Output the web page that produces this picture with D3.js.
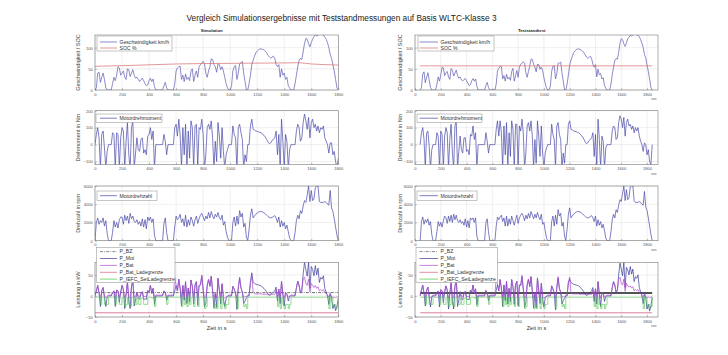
<!DOCTYPE html>
<html><head><meta charset="utf-8">
<script src="https://cdn.jsdelivr.net/npm/d3@7"></script>
<style>body{margin:0;background:#fff}svg{display:block;font-family:"Liberation Sans",Arial,sans-serif}</style>
</head><body><svg id="c" width="728" height="355"></svg>
<script>
// ---------------- DATA ----------------
const xTicks = [0,200,400,600,800,1000,1200,1400,1600,1800];
const simStart = 0, testStart = 40, sampleStep = 10;

// Simulation (t = 0..1800 s, every 10 s)
const simSpeed = [0,5,40,42,18,30,40,25,5,0, 0,0,0,15,30,22,35,55,52,35, 40,45,30,25,50,48,32,40,48,35, 28,30,25,20,25,28,22,15,10,12,
 22,28,20,26,8,0,0,0,0,0, 0,10,18,5,0,0,0,0,0,15, 45,52,55,56,25,35,20,38,25,30, 22,45,50,20,35,45,30,55,60,64,
 68,62,40,30,45,55,74,72,60,55, 42,62,60,48,55,45,30,15,5,0, 0,10,45,55,58,25,40,62,65,67, 40,20,0,0,15,35,60,70,80,88,
 92,95,97,97,96,95,92,88,82,78, 75,78,80,75,60,55,60,30,50,35, 40,25,30,10,5,0,0,0,15,35, 55,70,75,72,90,110,122,120,110,102,
 112,120,126,130,128,130,131,131,131,130, 125,120,112,100,85,75,60,45,25,5, 0];
const simSocTime = [0,200,400,600,800,1000,1200,1400,1500,1550,1600,1700,1800];
const simSoc     = [56,57.5,59.5,61.5,62.5,63,63.5,64,64.5,63.5,61.5,60,59];
const simTorque = [0,60,100,40,-140,60,80,-20,-140,-40, 0,0,0,70,60,-140,70,60,-140,40, 100,80,-140,20,130,-60,-140,100,140,-140,
 -50,40,-30,-40,30,40,-50,-30,-60,50, 60,100,30,80,-140,0,0,0,0,0, 0,60,20,-60,0,0,0,0,0,100, 120,50,150,60,-140,100,-60,120,-140,80,
 -80,140,100,-140,110,120,-140,100,90,150, 60,-140,-60,100,120,90,140,40,-140,20, -100,130,50,-80,100,-40,-140,-60,-30,0,
 0,0,110,60,40,-140,100,120,70,30, -140,-60,-100,0,0,110,150,90,85,80, 78,75,72,70,60,55,45,30,15,5, 10,25,30,40,80,-60,60,-140,150,20,
 -140,60,20,-140,-30,0,0,0,0,80, 120,100,20,40,130,180,140,90,160,40, 130,150,100,120,80,110,70,100,90,110, 40,20,0,-50,10,10,-60,-40,-100,-140, -80];
const simRpm = [0,2000,2500,1800,2200,2000,2500,1600,2200,800, 0,0,0,900,2200,1500,2000,1400,2300,2600, 2600,1800,2800,2200,2700,1900,3000,2400,2700,2100,
 2000,2300,1800,2100,1600,2400,1500,2300,1300,2600, 2200,2600,2000,2400,600,0,0,0,0,0, 0,1900,2500,900,0,0,0,0,0,1500,
 2700,2300,2500,2900,2000,2400,1600,2800,1500,2300, 1700,2600,2200,1600,2300,2700,1900,2400,2800,3000, 2600,2200,2700,2400,3100,2500,3200,2700,2400,2900,
 2600,3100,2500,2300,2800,1700,2100,1000,400,0, 0,0,2000,2600,1600,2700,1800,3300,2600,3000, 1500,1900,400,0,1200,2800,3500,2500,2700,2900,
 3050,3150,3200,3200,3150,3050,2950,2800,2650,2550, 2500,2550,2650,2750,2500,2000,2600,1500,2200,1600, 2000,1300,1700,1000,300,0,0,0,900,2200,
 2800,2400,3300,3000,3800,4400,4200,5000,6000,4300, 5500,4400,4600,5800,6000,6000,4300,4200,4200,4200, 4300,4200,4000,3900,5500,3600,3200,2400,1500,600, 0];
const simPMot = [0,12,25,7,-25,12,20,-3,-25,-3, 0,0,0,8,12,-25,14,12,-15,9, 25,15,-30,4,33,-12,-30,22,38,-24, -10,9,-5,-8,5,10,-8,-7,-8,13,
 8,25,6,18,-20,0,0,0,0,0, 0,12,8,-10,0,0,0,0,0,12, 25,12,40,18,-24,25,-10,34,-18,19, -14,38,23,-19,26,34,-22,25,26,47,
 16,-26,-17,25,39,23,47,11,-28,6, -27,42,13,-19,29,-7,-25,-6,-1,0, 0,0,23,16,7,-32,19,42,19,9, -18,-12,-4,0,0,32,55,32,30,28,
 27,26,25,24,20,18,14,9,4,1, 3,7,9,12,21,-12,16,-18,35,3, -24,8,4,-12,-1,0,0,0,0,19, 35,25,7,13,52,80,62,47,80,18,
 70,63,48,72,50,66,32,44,40,48, 18,9,0,-20,6,-5,-30,-20,-35,-25, -5];
const simPBat = [2,12,25,7,-3,12,20,0,-5,0, 2,2,2,8,12,-5,14,12,-3,9, 25,15,-5,4,33,-2,-5,22,38,-4, -2,9,0,-2,5,10,-2,-1,-2,13,
 8,25,6,18,-4,2,2,2,2,2, 2,12,8,-2,2,2,2,2,2,45, 25,12,40,18,-4,25,-2,34,-3,19, -3,38,23,-3,26,34,-4,25,26,50,
 16,-4,-3,25,39,23,47,11,-5,6, -5,42,13,-3,29,-2,-5,-2,0,2, 2,2,23,16,7,-5,19,45,19,9, -3,-2,-1,2,2,32,50,8,5,5,
 5,5,5,5,4,4,4,4,4,4, 4,4,4,4,15,-3,16,-4,35,3, -5,8,4,-3,0,2,2,2,2,19, 35,25,7,13,42,45,30,25,40,10,
 30,25,20,25,18,22,12,15,12,15, 8,6,3,-3,5,-2,-4,-2,-4,-3, 0];
const simPIefc = [-3,-3,-3,-3,-20,-3,-3,-20,-20,-20, -3,-3,-3,-3,-3,-20,-3,-3,-20,-20, -3,-3,-25,-20,-3,-20,-25,-3,-3,-20, -20,-5,-20,-20,-5,-5,-20,-20,-20,-3,
 -3,-3,-5,-3,-25,-3,-3,-3,-3,-3, -3,-3,-3,-20,-3,-3,-3,-3,-3,-3, -3,-3,-3,-3,-25,-3,-20,-3,-25,-3, -20,-3,-3,-25,-3,-3,-25,-3,-3,-3,
 -3,-30,-25,-3,-3,-3,-3,-3,-30,-20, -30,-3,-3,-30,-3,-20,-30,-20,-20,-3, -3,-3,-3,-3,-3,-30,-3,-3,-3,-3, -25,-20,-30,-3,-3,-3,-3,-3,-3,-3,
 -3,-3,-3,-3,-3,-3,-3,-3,-3,-3, -3,-3,-3,-3,-3,-25,-3,-30,-3,-20, -30,-20,-20,-30,-20,-3,-3,-3,-3,-3, -3,-3,-3,-3,-3,-3,-3,-3,-3,-3,
 -3,-3,-3,-3,-3,-3,-3,-3,-3,-3, -3,-3,-3,-30,-3,-3,-25,-20,-30,-25, -3];
const simPBzTime = [0,1800], simPBz = [8,8];
const simLadeTime = [0,1800], simLade = [-40,-40];

// Teststand (t = 40..1840 s, every 10 s)
const testSpeed = [0,5,38,43,17,30,41,24,6,0, 0,0,0,14,31,21,36,54,52,34, 41,44,31,25,51,47,33,40,47,34, 28,31,24,21,25,27,22,16,10,13,
 22,27,21,26,9,0,0,0,0,0, 0,11,18,6,0,0,0,0,0,14, 46,51,56,55,26,34,21,37,26,30, 23,44,51,21,34,46,30,54,61,63,
 67,63,41,30,44,56,73,72,61,54, 43,61,60,49,54,46,29,16,5,0, 0,9,44,56,57,26,39,63,64,66, 41,21,0,0,14,36,59,71,79,88,
 92,95,97,97,96,94,92,88,83,78, 75,77,80,74,61,54,60,31,49,36, 39,26,29,11,4,0,0,0,14,36, 54,70,74,73,89,110,121,119,109,103,
 111,121,125,129,128,130,131,131,130,130, 126,119,111,101,84,76,59,44,26,6, 0];
const testSocTime = [40,1840], testSoc = [57,57];
const testTorque = [0,70,100,30,-140,70,80,-10,-140,-30, 0,0,0,70,50,-140,80,60,-140,50, 100,70,-140,30,120,-50,-140,110,140,-140,
 -40,50,-30,-50,40,40,-40,-30,-60,60, 50,110,30,70,-140,0,0,0,0,0, 0,70,20,-50,0,0,0,0,0,90, 140,50,140,70,-140,110,-60,130,-140,70,
 -70,140,90,-140,120,120,-140,110,80,150, 70,-140,-50,110,130,80,140,50,-140,30, -110,140,50,-70,110,-50,-140,-50,-20,0,
 0,0,120,60,30,-140,110,130,60,30, -140,-50,-110,0,0,120,140,90,86,81, 79,76,73,70,62,55,45,32,16,6, 10,24,30,40,70,-70,60,-140,150,30,
 -140,50,20,-140,-20,0,0,0,0,80, 110,100,30,40,130,170,150,100,160,50, 130,150,110,120,90,110,70,100,80,100, 50,20,0,-40,10,0,-60,-30,-100,-120, 0];
const testRpm = [0,2100,2600,1800,2300,2000,2400,1700,2100,700, 0,0,0,1000,2100,1600,2000,1500,2200,2700, 2500,1900,2700,2100,2800,2000,2900,2300,2800,2200,
 2000,2300,1900,2100,1700,2400,1500,2200,1400,2500, 2300,2500,2000,2500,500,0,0,0,0,0, 0,2000,2400,1000,0,0,0,0,0,1600,
 2600,2300,2600,2800,2100,2500,1600,2700,1600,2400, 1800,2700,2200,1700,2300,2800,1900,2500,2800,3000, 2700,2200,2800,2400,3000,2500,3200,2800,2400,2900,
 2500,3100,2600,2300,2900,1800,2000,1100,300,0, 0,0,2100,2700,1600,2800,1800,3400,2700,3000, 1600,2000,500,0,1300,2900,3600,2500,2700,2900,
 3050,3150,3200,3200,3150,3050,2950,2800,2650,2550, 2500,2550,2650,2750,2500,2100,2700,1600,2300,1700, 2100,1400,1800,1100,300,0,0,0,1000,2300,
 2900,2500,3400,3100,3900,4500,4300,5200,6000,4400, 5600,4500,4700,5900,6000,6000,4400,4200,4200,4200, 4300,4200,4000,3900,5400,3700,3300,2500,1600,700, 0];
const testPMot = [0,14,26,6,-24,13,21,-2,-26,-3, 0,0,0,9,11,-26,15,12,-16,10, 24,14,-31,5,32,-11,-31,23,39,-25, -9,10,-6,-9,6,11,-7,-8,-9,14,
 9,26,6,17,-21,0,0,0,0,0, 0,13,8,-11,0,0,0,0,0,13, 27,12,39,19,-25,26,-11,35,-19,18, -13,39,22,-20,27,35,-23,26,25,46,
 17,-27,-16,26,40,22,46,12,-29,7, -28,43,12,-18,30,-8,-26,-5,-1,0, 0,0,24,17,6,-33,20,43,18,9, -19,-11,-5,0,0,33,40,32,30,28,
 27,26,25,24,21,18,14,10,5,1, 3,6,9,12,20,-13,17,-19,34,4, -25,9,5,-13,-1,0,0,0,0,20, 34,26,8,14,50,78,64,48,80,20,
 68,62,50,70,52,64,34,46,42,50, 20,10,0,-18,6,-5,-31,-20,-36,-24, -3];
const testPBat = [2,14,26,6,-3,13,21,0,-5,0, 2,2,2,9,11,-5,15,12,-3,10, 24,14,-5,5,32,-2,-5,23,39,-4, -2,10,0,-2,6,11,-2,-1,-2,14,
 9,26,6,17,-4,2,2,2,2,2, 2,13,8,-2,2,2,2,2,2,46, 27,12,39,19,-4,26,-2,35,-3,18, -3,39,22,-3,27,35,-4,26,25,49,
 17,-4,-3,26,40,22,46,12,-5,7, -5,43,12,-3,30,-2,-5,-2,0,2, 2,2,24,17,6,-5,20,46,18,9, -3,-2,-1,2,2,33,45,7,5,5,
 5,5,5,5,4,4,4,4,4,4, 4,4,4,4,14,-3,17,-4,34,4, -5,9,5,-3,0,2,2,2,2,20, 34,26,8,14,40,44,30,26,40,11,
 30,24,21,24,19,22,12,16,13,15, 9,6,3,-3,5,-2,-4,-2,-4,-3, 0];
const testPIefc = [-3,-3,-3,-3,-20,-3,-3,-20,-20,-20, -3,-3,-3,-3,-3,-20,-3,-3,-20,-20, -3,-3,-25,-20,-3,-20,-25,-3,-3,-20, -20,-5,-20,-20,-5,-5,-20,-20,-20,-3,
 -3,-3,-5,-3,-25,-3,-3,-3,-3,-3, -3,-3,-3,-20,-3,-3,-3,-3,-3,-3, -3,-3,-3,-3,-25,-3,-20,-3,-25,-3, -20,-3,-3,-25,-3,-3,-25,-3,-3,-3,
 -3,-30,-25,-3,-3,-3,-3,-3,-30,-20, -30,-3,-3,-30,-3,-20,-30,-20,-20,-3, -3,-3,-3,-3,-3,-30,-3,-3,-3,-3, -25,-20,-30,-3,-3,-3,-3,-3,-3,-3,
 -3,-3,-3,-3,-3,-3,-3,-3,-3,-3, -3,-3,-3,-3,-3,-25,-3,-30,-3,-20, -30,-20,-20,-30,-20,-3,-3,-3,-3,-3, -3,-3,-3,-3,-3,-3,-3,-3,-3,-3,
 -3,-3,-3,-3,-3,-3,-3,-3,-3,-3, -3,-3,-3,-30,-3,-3,-25,-20,-30,-25, -3];
const testPBzTime = [40,1840], testPBz = [7,7];
const testLadeTime = [40,1840], testLade = [-40,-40];

// ---------------- DRAWING ----------------
const svg = d3.select('#c');
const font = '"Liberation Sans",Arial,sans-serif';

svg.append('text').attr('x',341.5).attr('y',21).attr('text-anchor','middle')
  .attr('font-size',8.3).attr('fill','#222')
  .text('Vergleich Simulationsergebnisse mit Teststandmessungen auf Basis WLTC-Klasse 3');

const grid = (start, vals) => vals.map((v,i)=>({t:start+i*sampleStep, v}));
const pairs = (ts, vals) => vals.map((v,i)=>({t:ts[i], v}));

const C = {
  speed:'#5a5ab0', soc:'#d86a6a', torque:'#4646a8', rpm:'#4646a8',
  bz:'#333333', mot:'#3a3a9a', bat:'#b04cd0', lade:'#cf5f7c', iefc:'#4cc44c'
};

const columns = [
  {x0:95, x1:338.3, xmax:1800, title:'Simulation', titleX:211.7, ylabX:80, sec:false,
   legLine:[100,117], legText:119.5,
   legBox:[[97,172],[96,162],[97,157],[96.7,175]],
   data:{speed:grid(simStart,simSpeed), soc:pairs(simSocTime,simSoc), torque:grid(simStart,simTorque), rpm:grid(simStart,simRpm),
         bz:pairs(simPBzTime,simPBz), mot:grid(simStart,simPMot), bat:grid(simStart,simPBat), lade:pairs(simLadeTime,simLade), iefc:grid(simStart,simPIefc)},
   bzSolid:false},
  {x0:415, x1:658, xmax:1885, title:'Teststandtest', titleX:531.7, ylabX:401.7, sec:true,
   legLine:[419.5,438], legText:440.5,
   legBox:[[418,494],[417,482],[417,477],[416,497.3]],
   data:{speed:grid(testStart,testSpeed), soc:pairs(testSocTime,testSoc), torque:grid(testStart,testTorque), rpm:grid(testStart,testRpm),
         bz:pairs(testPBzTime,testPBz), mot:grid(testStart,testPMot), bat:grid(testStart,testPBat), lade:pairs(testLadeTime,testLade), iefc:grid(testStart,testPIefc)},
   bzSolid:true}
];

const rows = [
  {y0:35, y1:90, dom:[0,130], ticks:[0,50,100], label:'Geschwindigkeit / SOC',
   series:['speed','soc'], names:['Geschwindigkeit km/h','SOC %'], legY:[36,51], rowsY:[42,48]},
  {y0:110.7, y1:164.6, dom:[-118,200], ticks:[-100,0,100,200], label:'Drehmoment in Nm',
   series:['torque'], names:['Motordrehmoment'], legY:[114,122.5], rowsY:[118.2]},
  {y0:186, y1:240.7, dom:[0,6000], ticks:[0,2000,4000,6000], label:'Drehzahl in rpm',
   series:['rpm'], names:['Motordrehzahl'], legY:[191,200.5], rowsY:[195.7]},
  {y0:262.3, y1:317, dom:[-50,80], ticks:[-50,0,50], label:'Leistung in kW',
   series:['bz','mot','bat','lade','iefc'], names:['P_BZ','P_Mot','P_Bat','P_Bat_Ladegrenze','P_IEFC_SetLadegrenze'],
   legY:[247.7,282.5], rowsY:[251.6,258.5,265.4,272.3,279.1]}
];

let clipId = 0;
columns.forEach(col => {
  svg.append('text').attr('x',col.titleX).attr('y',32.2).attr('text-anchor','middle')
    .attr('font-size',4.3).attr('font-weight','bold').attr('fill','#222').text(col.title);

  rows.forEach((row, ri) => {
    const x = d3.scaleLinear().domain([0,col.xmax]).range([col.x0,col.x1]);
    const y = d3.scaleLinear().domain(row.dom).range([row.y1,row.y0]);
    const g = svg.append('g');
    const w = col.x1-col.x0, h = row.y1-row.y0;

    // grid
    g.append('g').selectAll('line').data(xTicks).join('line')
      .attr('x1',d=>x(d)).attr('x2',d=>x(d)).attr('y1',row.y0).attr('y2',row.y1)
      .attr('stroke','#dedede').attr('stroke-width',0.5);
    g.append('g').selectAll('line').data(row.ticks).join('line')
      .attr('x1',col.x0).attr('x2',col.x1).attr('y1',d=>y(d)).attr('y2',d=>y(d))
      .attr('stroke','#dedede').attr('stroke-width',0.5);

    // data
    const cid = 'clip'+(clipId++);
    svg.append('clipPath').attr('id',cid).append('rect')
      .attr('x',col.x0).attr('y',row.y0).attr('width',w).attr('height',h);
    const dg = g.append('g').attr('clip-path',`url(#${cid})`);
    row.series.forEach(s => {
      const curve = s==='iefc' ? d3.curveStepAfter : d3.curveLinear;
      const line = d3.line().x(d=>x(d.t)).y(d=>y(d.v)).curve(curve);
      const p = dg.append('path').datum(col.data[s]).attr('d',line)
        .attr('fill','none').attr('stroke',C[s]).attr('stroke-width',0.7).attr('stroke-linejoin','round');
      if (s==='bz') {
        if (col.bzSolid) p.attr('stroke','#1a1a1a').attr('stroke-width',1.3);
        else p.attr('stroke-dasharray','3,1.2,0.8,1.2').attr('stroke-width',0.7);
      }
      if (s==='iefc') p.attr('stroke-width',0.6);
      if (s==='lade') p.attr('stroke-width',0.8);
    });

    // axes
    const ax = g.append('g').attr('transform',`translate(0,${row.y1})`)
      .call(d3.axisBottom(x).tickValues(xTicks).tickSize(-1.8).tickPadding(2.6).tickFormat(d3.format('d')));
    const ay = g.append('g').attr('transform',`translate(${col.x0},0)`)
      .call(d3.axisLeft(y).tickValues(row.ticks).tickSize(-1.8).tickPadding(2.2).tickFormat(d3.format('d')));
    [ax,ay].forEach(a => {
      a.select('.domain').remove();
      a.selectAll('line').attr('stroke','#777').attr('stroke-width',0.5);
      a.selectAll('text').attr('font-size',4.1).attr('fill','#555').attr('font-family',font);
    });
    g.append('rect').attr('x',col.x0).attr('y',row.y0).attr('width',w).attr('height',h)
      .attr('fill','none').attr('stroke','#7a7a7a').attr('stroke-width',0.6);

    // y label
    g.append('text').attr('transform',`translate(${col.ylabX},${(row.y0+row.y1)/2}) rotate(-90)`)
      .attr('text-anchor','middle').attr('font-size',5.5).attr('fill','#444').text(row.label);

    if (col.sec) {
      g.append('text').attr('x',654).attr('y',row.y1+10.3).attr('text-anchor','middle')
        .attr('font-size',3.8).attr('fill','#666').text('sec');
    }
    if (ri===3) {
      g.append('text').attr('x',(col.x0+col.x1)/2).attr('y',329.6).attr('text-anchor','middle')
        .attr('font-size',5.6).attr('fill','#333').text('Zeit in s');
    }

    // legend
    const lb = col.legBox[ri];
    const lg = svg.append('g');
    lg.append('rect').attr('x',lb[0]).attr('y',row.legY[0]).attr('width',lb[1]-lb[0]).attr('height',row.legY[1]-row.legY[0])
      .attr('fill','#fff').attr('stroke','#8a8a8a').attr('stroke-width',0.5);
    row.series.forEach((s,i) => {
      const yy = row.rowsY[i];
      const l = lg.append('line').attr('x1',col.legLine[0]).attr('x2',col.legLine[1]).attr('y1',yy).attr('y2',yy)
        .attr('stroke', s==='bz' ? '#555' : C[s]).attr('stroke-width',0.7);
      if (s==='bz') l.attr('stroke-dasharray','3,1.2,0.8,1.2');
      lg.append('text').attr('x',col.legText).attr('y',yy+1.8).attr('font-size',5.1).attr('fill','#333').text(row.names[i]);
    });
  });
});
</script></body></html>
